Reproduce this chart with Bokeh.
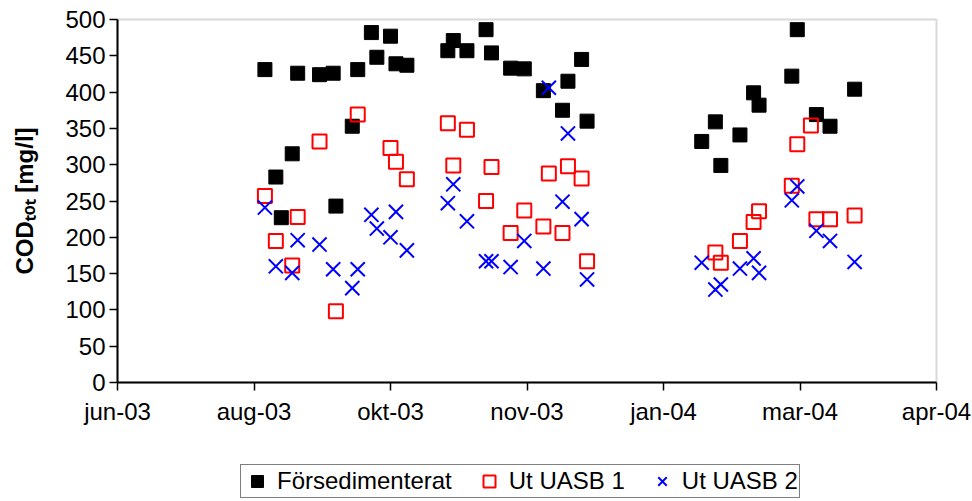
import pandas as pd
from bokeh.plotting import figure
from bokeh.models import Range1d, FixedTicker, Legend, LegendItem, BoxAnnotation
from bokeh.embed import file_html
from bokeh.resources import INLINE

# ---------------- data ----------------
fors_dates = ["2003-08-21", "2003-08-25", "2003-08-27", "2003-08-31", "2003-09-02",
              "2003-09-10", "2003-09-15", "2003-09-16", "2003-09-22", "2003-09-24",
              "2003-09-29", "2003-10-01", "2003-10-06", "2003-10-08", "2003-10-12",
              "2003-10-27", "2003-10-29", "2003-11-03", "2003-11-10", "2003-11-12",
              "2003-11-19", "2003-11-24", "2003-12-01", "2003-12-08", "2003-12-10",
              "2003-12-15", "2003-12-17", "2004-01-28", "2004-02-02", "2004-02-04",
              "2004-02-11", "2004-02-16", "2004-02-18", "2004-03-01", "2004-03-03",
              "2004-03-10", "2004-03-15", "2004-03-24"]
fors_vals = [431, 283, 227, 315, 426,
             424, 426, 243, 353, 431,
             482, 448, 477, 439, 437,
             457, 471, 457, 486, 454,
             433, 432, 402, 375, 415,
             445, 360, 332, 359, 299,
             341, 399, 382, 422, 486,
             369, 353, 404]

uasb1_dates = ["2003-08-21", "2003-08-25", "2003-08-31", "2003-09-02", "2003-09-10",
               "2003-09-16", "2003-09-24", "2003-10-06", "2003-10-08", "2003-10-12",
               "2003-10-27", "2003-10-29", "2003-11-03", "2003-11-10", "2003-11-12",
               "2003-11-19", "2003-11-24", "2003-12-01", "2003-12-03", "2003-12-08",
               "2003-12-10", "2003-12-15", "2003-12-17", "2004-02-02", "2004-02-04",
               "2004-02-11", "2004-02-16", "2004-02-18", "2004-03-01", "2004-03-03",
               "2004-03-08", "2004-03-10", "2004-03-15", "2004-03-24"]
uasb1_vals = [257, 195, 161, 228, 332,
              98, 369, 323, 304, 280,
              357, 299, 348, 250, 297,
              206, 237, 215, 288, 206,
              298, 281, 167, 179, 165,
              195, 221, 236, 271, 328,
              354, 225, 225, 230]

uasb2_dates = ["2003-08-21", "2003-08-25", "2003-08-31", "2003-09-02", "2003-09-10",
               "2003-09-15", "2003-09-22", "2003-09-24", "2003-09-29", "2003-10-01",
               "2003-10-06", "2003-10-08", "2003-10-12", "2003-10-27", "2003-10-29",
               "2003-11-03", "2003-11-10", "2003-11-12", "2003-11-19", "2003-11-24",
               "2003-12-01", "2003-12-03", "2003-12-08", "2003-12-10", "2003-12-15",
               "2003-12-17", "2004-01-28", "2004-02-02", "2004-02-04", "2004-02-11",
               "2004-02-16", "2004-02-18", "2004-03-01", "2004-03-03", "2004-03-10",
               "2004-03-15", "2004-03-24"]
uasb2_vals = [241, 160, 151, 196, 190,
              156, 130, 156, 231, 212,
              200, 235, 182, 247, 273,
              222, 167, 167, 159, 195,
              157, 406, 249, 343, 225,
              142, 165, 128, 135, 157,
              171, 151, 251, 270, 209,
              195, 166]

series_names = ["Försedimenterat", "Ut UASB 1", "Ut UASB 2"]

tick_dates = ["2003-06-28", "2003-08-17", "2003-10-06", "2003-11-25",
              "2004-01-14", "2004-03-04", "2004-04-23"]
tick_labels = ["jun-03", "aug-03", "okt-03", "nov-03", "jan-04", "mar-04", "apr-04"]
y_ticks = [0, 50, 100, 150, 200, 250, 300, 350, 400, 450, 500]
y_min, y_max = 0, 500
y_title = "COD\u209c\u2092\u209c [mg/l]"   # COD_tot [mg/l]

# ---------------- layout constants (pixels) ----------------
FONT = "Liberation Sans"
FS = "24px"
W, H = 972, 500
LEFT, RIGHT, TOP, AXIS_Y = 117, 936, 19, 382   # plot-area edges in the picture

def to_ms(ds):
    return [pd.Timestamp(d).value / 1e6 for d in ds]

tick_ms = to_ms(tick_dates)
t0, t1 = tick_ms[0], tick_ms[-1]

# The frame covers the whole canvas (so nothing is clipped); the plot area is
# the part of it between the axis bounds, and both axes are pinned to it.
ms_per_px = (t1 - t0) / (RIGHT - LEFT)
px_per_unit = (AXIS_Y - TOP) / (y_max - y_min)
x_range = Range1d(t0 - LEFT * ms_per_px, t1 + (W - RIGHT) * ms_per_px)
y_range = Range1d(y_min - (H - AXIS_Y) / px_per_unit, y_max + TOP / px_per_unit)

p = figure(width=W, height=H, x_axis_type="datetime",
           output_backend="svg", toolbar_location=None,
           x_range=x_range, y_range=y_range, min_border=0)

p.background_fill_color = "white"
p.border_fill_color = "white"
p.outline_line_color = None
p.xgrid.visible = False
p.ygrid.visible = False

# plot-area border (grey top / right, as in the reference), under the axes
p.add_layout(BoxAnnotation(left=t0, right=t1, bottom=y_min, top=y_max, level="underlay",
                           fill_color=None, line_color="#808080", line_width=2))

r1 = p.scatter(pd.to_datetime(fors_dates), fors_vals, marker="square", size=14,
               fill_color="black", line_color="black", line_width=1)
r2 = p.scatter(pd.to_datetime(uasb1_dates), uasb1_vals, marker="square", size=14,
               fill_color=None, line_color="#FF0000", line_width=2)
r3 = p.scatter(pd.to_datetime(uasb2_dates), uasb2_vals, marker="x", size=20,
               line_color="#0000FF", line_width=2)

# axes
xa = p.xaxis[0]
xa.fixed_location = y_min
xa.bounds = (t0, t1)
xa.ticker = FixedTicker(ticks=tick_ms)
xa.major_label_overrides = {t: l for t, l in zip(tick_ms, tick_labels)}
xa.minor_tick_line_color = None
xa.major_tick_in = 0
xa.major_tick_out = 8
xa.major_label_standoff = 7
xa.axis_line_color = "black"
xa.axis_line_width = 2
xa.major_tick_line_color = "black"
xa.major_tick_line_width = 1.5
xa.major_label_text_font = FONT
xa.major_label_text_font_size = FS
xa.major_label_text_color = "black"

ya = p.yaxis[0]
ya.fixed_location = t0
ya.bounds = (y_min, y_max)
ya.ticker = FixedTicker(ticks=y_ticks)
ya.minor_tick_line_color = None
ya.major_tick_in = 0
ya.major_tick_out = 8
ya.major_label_standoff = 4
ya.axis_line_color = "black"
ya.axis_line_width = 2
ya.major_tick_line_color = "black"
ya.major_tick_line_width = 1.5
ya.major_label_text_font = FONT
ya.major_label_text_font_size = FS
ya.major_label_text_color = "black"
ya.axis_label = y_title
ya.axis_label_text_font = FONT
ya.axis_label_text_font_size = FS
ya.axis_label_text_font_style = "bold"
ya.axis_label_text_color = "black"
ya.axis_label_standoff = 24

legend = Legend(items=[LegendItem(label=series_names[0], renderers=[r1]),
                       LegendItem(label=series_names[1], renderers=[r2]),
                       LegendItem(label=series_names[2], renderers=[r3])],
                orientation="horizontal", location=(240, 2),
                border_line_color="black", border_line_width=1,
                background_fill_color="white", background_fill_alpha=1,
                label_text_font=FONT, label_text_font_size=FS,
                label_text_color="black", label_height=24,
                glyph_width=30, glyph_height=30, label_standoff=5,
                spacing=22, padding=1, margin=0)
p.add_layout(legend)

open("out.html", "w").write(file_html(p, INLINE))
